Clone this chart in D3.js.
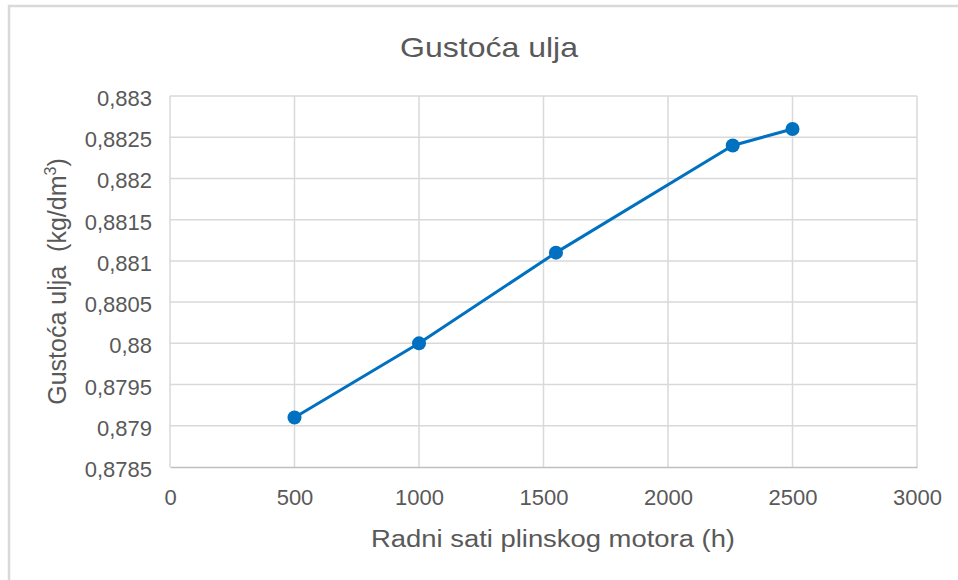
<!DOCTYPE html>
<html>
<head>
<meta charset="utf-8">
<script src="https://cdn.jsdelivr.net/npm/d3@7"></script>
<style>
	body { margin: 0; background: #fff; }
	text { font-family: "Liberation Sans", Arial, sans-serif; fill: #595959; }
</style>
</head>
<body>
<svg id="chart" width="958" height="580"></svg>
<script>
// radni sati vs. gustoca ulja
var hours = [500, 1000, 1550, 2260, 2500];
var density = [0.8791, 0.8800, 0.8811, 0.8824, 0.8826];
var xTicks = [0, 500, 1000, 1500, 2000, 2500, 3000];
var yTicks = [0.8785, 0.879, 0.8795, 0.88, 0.8805, 0.881, 0.8815, 0.882, 0.8825, 0.883];

var svg = d3.select("#chart");
var plotLeft = 170, plotRight = 917, plotTop = 96, plotBottom = 467;

// outer chart border (only top/left visible in the crop)
svg.append("path")
	.attr("d", "M9,590 L9,6 L970,6")
	.attr("fill", "none")
	.attr("stroke", "#d9d9d9")
	.attr("stroke-width", 2.5);

var x = d3.scaleLinear().domain([0, 3000]).range([plotLeft, plotRight]);
var y = d3.scaleLinear().domain([0.8785, 0.883]).range([plotBottom, plotTop]);

// gridlines
svg.append("g").selectAll("line")
	.data(yTicks.slice(1))
	.enter().append("line")
	.attr("x1", plotLeft).attr("x2", plotRight)
	.attr("y1", function(d) { return y(d); })
	.attr("y2", function(d) { return y(d); })
	.attr("stroke", "#d9d9d9")
	.attr("stroke-width", 1.5);
svg.append("g").selectAll("line")
	.data(xTicks)
	.enter().append("line")
	.attr("x1", function(d) { return x(d); })
	.attr("x2", function(d) { return x(d); })
	.attr("y1", plotTop).attr("y2", plotBottom)
	.attr("stroke", "#d9d9d9")
	.attr("stroke-width", 1.5);

// x axis
var xAxis = svg.append("g")
	.attr("transform", "translate(0," + plotBottom + ")")
	.call(d3.axisBottom(x).tickValues(xTicks).tickSize(0).tickPadding(0).tickFormat(d3.format("d")));
xAxis.select(".domain").attr("stroke", "#bfbfbf").attr("stroke-width", 1.5);
xAxis.selectAll("text")
	.attr("dy", null)
	.attr("y", 38)
	.attr("fill", "#666")
	.style("font-size", "22px");

// y axis
var fmtY = function(d) { return String(+d.toFixed(4)).replace(".", ","); };
var yAxis = svg.append("g")
	.attr("transform", "translate(" + plotLeft + ",0)")
	.call(d3.axisLeft(y).tickValues(yTicks).tickSize(0).tickPadding(0).tickFormat(fmtY));
yAxis.select(".domain").remove();
yAxis.selectAll("text")
	.attr("dy", null)
	.attr("y", 9.5)
	.attr("x", -18)
	.attr("fill", "#666")
	.style("font-size", "22px");

// title and axis titles
svg.append("text")
	.text("Gustoća ulja")
	.attr("x", 489).attr("y", 57)
	.attr("text-anchor", "middle")
	.style("font-size", "28px")
	.attr("textLength", 178)
	.attr("lengthAdjust", "spacingAndGlyphs");
svg.append("text")
	.text("Radni sati plinskog motora (h)")
	.attr("x", 553).attr("y", 547)
	.attr("text-anchor", "middle")
	.style("font-size", "23px")
	.attr("textLength", 364)
	.attr("lengthAdjust", "spacingAndGlyphs");
var yl = svg.append("text")
	.attr("transform", "translate(66," + ((plotTop + plotBottom) / 2) + ") rotate(-90)")
	.attr("text-anchor", "middle")
	.style("font-size", "25px");
yl.append("tspan").text("Gustoća ulja\u00a0\u00a0(kg/dm");
yl.append("tspan").text("3").style("font-size", "16px").attr("dy", -10);
yl.append("tspan").text(")").attr("dy", 10);

// series
var line = d3.line()
	.x(function(d) { return x(d[0]); })
	.y(function(d) { return y(d[1]); });
var data = hours.map(function(h, i) { return [h, density[i]]; });
svg.append("path")
	.datum(data)
	.attr("fill", "none")
	.attr("stroke", "#0070c0")
	.attr("stroke-width", 3)
	.attr("stroke-linejoin", "round")
	.attr("d", line);
svg.append("g").selectAll("circle")
	.data(data)
	.enter().append("circle")
	.attr("cx", function(d) { return x(d[0]); })
	.attr("cy", function(d) { return y(d[1]); })
	.attr("r", 7)
	.attr("fill", "#0070c0");
</script>
</body>
</html>
